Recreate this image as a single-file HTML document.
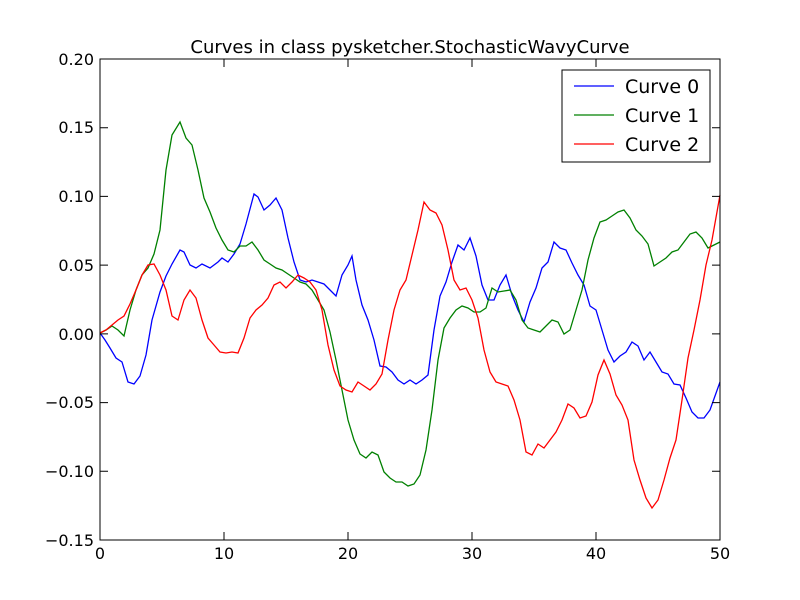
<!DOCTYPE html>
<html><head><style>body{margin:0;background:#fff}svg{display:block}text{font-family:"DejaVu Sans","Liberation Sans",sans-serif}</style></head><body>
<svg width="800" height="600" xmlns="http://www.w3.org/2000/svg">
<rect width="800" height="600" fill="#fff"/>
<text x="410" y="53" font-size="18" text-anchor="middle">Curves in class pysketcher.StochasticWavyCurve</text>
<g fill="none" stroke-width="1.3">
<polyline stroke="#0000ff" points="100,333 105,340 110,348 116,358 122,362 128,382 134,384 140,376 146,355 152,320 160,292 166,276 172,264 180,250 184,252 190,265 196,268 202,264 210,268 218,262 222,258 228,262 234,254 240,244 246,224 254,194 258,197 264,210 270,205 276,198 282,210 288,238 294,262 300,280 306,282 312,280 318,282 324,284 330,290 336,296 342,275 348,265 352,256 356,280 362,305 368,320 374,340 380,366 386,367 392,372 398,380 404,384 410,380 416,384 422,380 428,375 434,330 440,296 446,282 452,262 458,245 464,250 470,238 476,256 482,285 488,300 494,300 500,285 506,275 512,295 518,310 524,322 530,302 536,288 542,268 548,262 554,242 560,248 566,250 572,263 578,275 584,285 590,306 596,310 602,330 608,350 614,362 620,356 626,352 632,342 638,346 644,360 650,352 656,362 662,372 668,374 674,384 680,385 686,398 692,412 698,418 704,418 710,410 720,382"/>
<polyline stroke="#008000" points="100,333 106,330 112,326 118,330 124,336 130,310 136,290 142,275 148,268 154,254 160,230 166,170 172,135 180,122 186,138 192,145 198,170 204,198 210,212 216,228 222,240 228,250 234,252 240,246 246,246 252,242 258,250 264,260 270,264 276,268 282,270 288,274 294,278 300,282 306,284 312,290 318,300 324,310 330,332 336,360 342,390 348,420 354,440 360,454 366,458 372,452 378,455 384,472 390,478 396,482 402,482 408,486 414,484 420,475 426,450 432,410 438,360 444,328 450,318 456,310 462,306 468,308 474,312 480,312 486,308 492,288 498,292 504,291 510,290 516,300 522,320 528,328 534,330 540,332 546,326 552,320 558,322 564,334 570,330 576,310 582,290 588,260 594,238 600,222 606,220 612,216 618,212 624,210 630,218 636,230 642,236 648,244 654,266 660,262 666,258 672,252 678,250 684,242 690,234 696,232 702,238 708,248 714,245 720,242"/>
<polyline stroke="#ff0000" points="100,333 106,330 112,325 118,320 124,316 130,304 136,290 142,275 148,265 154,264 160,275 166,290 172,316 178,320 184,300 190,290 196,298 202,320 208,338 214,345 220,352 226,353 232,352 238,353 244,338 250,318 256,310 262,305 268,298 274,285 280,282 286,288 292,282 298,275 304,278 310,282 316,290 322,310 328,345 334,370 340,386 346,390 352,392 358,382 364,386 370,390 376,384 382,374 388,340 394,310 400,290 406,280 412,255 418,230 424,202 430,210 436,213 442,225 448,250 454,280 460,290 466,288 472,300 478,318 484,350 490,372 496,382 502,384 508,386 514,400 520,420 526,452 532,455 538,444 544,448 550,440 556,432 562,420 568,404 574,408 580,418 586,416 592,402 598,375 604,360 610,374 616,395 622,405 628,420 634,460 640,480 646,498 652,508 658,500 664,480 670,458 676,440 682,400 688,358 694,330 700,300 706,265 712,240 720,195"/>
</g>
<rect x="100" y="59" width="620" height="481" fill="none" stroke="#000" stroke-width="1"/>
<g stroke="#000" stroke-width="1">
<path d="M224,540v-8M348,540v-8M472,540v-8M596,540v-8M224,59v8M348,59v8M472,59v8M596,59v8"/>
<path d="M100,127.7h8M100,196.4h8M100,265.1h8M100,333.9h8M100,402.6h8M100,471.3h8M720,127.7h-8M720,196.4h-8M720,265.1h-8M720,333.9h-8M720,402.6h-8M720,471.3h-8"/>
</g>
<g font-size="16" text-anchor="middle">
<text x="100" y="559">0</text><text x="224" y="559">10</text><text x="348" y="559">20</text><text x="472" y="559">30</text><text x="596" y="559">40</text><text x="720" y="559">50</text>
</g>
<g font-size="16" text-anchor="end">
<text x="94" y="65">0.20</text><text x="94" y="133">0.15</text><text x="94" y="202">0.10</text><text x="94" y="271">0.05</text><text x="94" y="340">0.00</text><text x="94" y="408">−0.05</text><text x="94" y="477">−0.10</text><text x="94" y="546">−0.15</text>
</g>
<rect x="562" y="70" width="148" height="92" fill="#fff" stroke="#000"/>
<path d="M574,86h40" stroke="#0000ff" stroke-width="1.3"/><path d="M574,115h40" stroke="#008000" stroke-width="1.3"/><path d="M574,144h40" stroke="#ff0000" stroke-width="1.3"/>
<g font-size="19"><text x="625" y="93">Curve 0</text><text x="625" y="122">Curve 1</text><text x="625" y="151">Curve 2</text></g>
</svg>
</body></html>
